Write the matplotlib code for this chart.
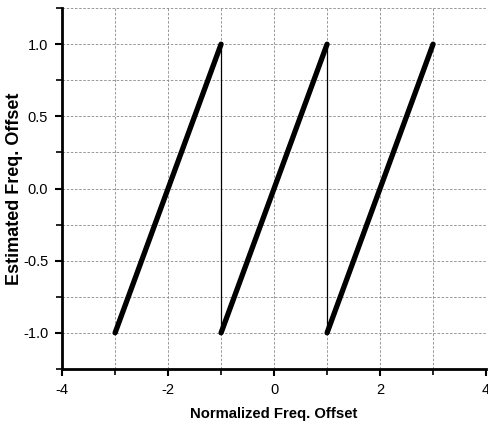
import matplotlib.pyplot as plt
from matplotlib.ticker import MultipleLocator

plt.rcParams['font.family'] = ['Liberation Sans', 'DejaVu Sans']
plt.rcParams['axes.unicode_minus'] = False

# sawtooth ramps (start, end) in normalized offset
ramp_x_start = [-3, -1, 1]
ramp_x_end = [-1, 1, 3]
ramp_y_start = [-1.0, -1.0, -1.0]
ramp_y_end = [1.0, 1.0, 1.0]
# wrap-around drops
drop_x = [-1, 1]

fig = plt.figure(figsize=(4.89, 4.26), dpi=100)
ax = fig.add_axes([0.127, 0.134, 0.867, 0.847])

for xs, xe, ys, ye in zip(ramp_x_start, ramp_x_end, ramp_y_start, ramp_y_end):
    ax.plot([xs, xe], [ys, ye], color='black', linewidth=3.8, solid_capstyle='round', zorder=3)
for xd in drop_x:
    ax.plot([xd, xd], [1.0, -1.0], color='black', linewidth=0.9, zorder=2)

ax.set_xlim(-4, 4)
ax.set_ylim(-1.25, 1.25)
ax.xaxis.set_major_locator(MultipleLocator(2))
ax.xaxis.set_minor_locator(MultipleLocator(1))
ax.yaxis.set_major_locator(MultipleLocator(0.5))
ax.yaxis.set_minor_locator(MultipleLocator(0.25))
ax.yaxis.set_major_formatter(plt.FormatStrFormatter('%.1f'))

ax.grid(which='both', color='#888888', linestyle=(0, (3, 2)), linewidth=0.6)
ax.set_axisbelow(True)

for s in ['top', 'right']:
    ax.spines[s].set_visible(False)
for s in ['left', 'bottom']:
    ax.spines[s].set_linewidth(2.0)

ax.tick_params(which='major', length=5, width=1.5, labelsize=10.5, pad=5)
ax.tick_params(which='minor', length=4, width=1.2)

ax.set_xlabel('Normalized Freq. Offset', fontsize=10.7, fontweight='bold')
ax.set_ylabel('Estimated Freq. Offset', fontsize=13, fontweight='bold')
ax.xaxis.set_label_coords(0.5, -0.105)
ax.yaxis.set_label_coords(-0.092, 0.5)

fig.savefig('out.png', dpi=100)
